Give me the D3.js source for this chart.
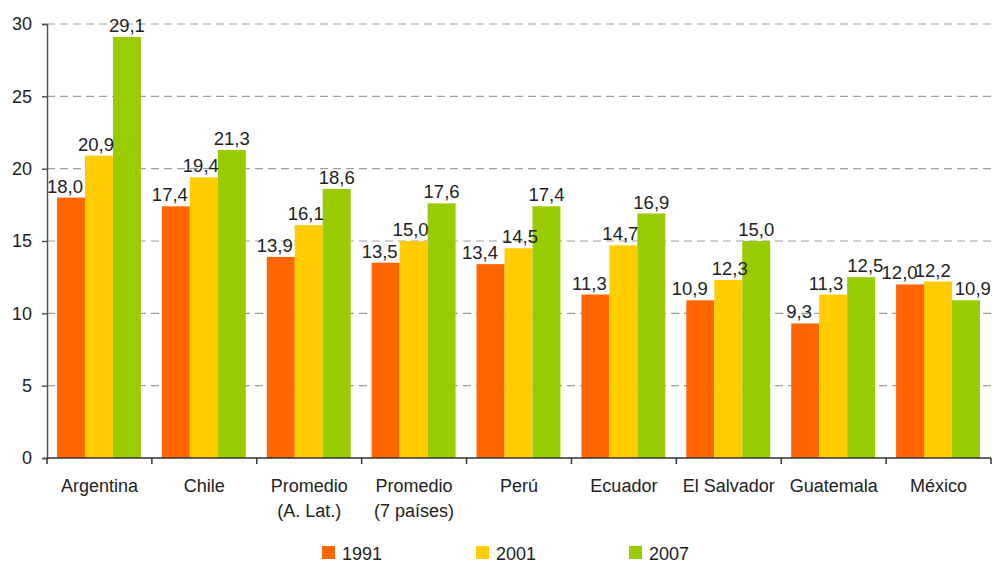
<!DOCTYPE html>
<html>
  <meta charset="utf-8">
  <head>
  <style>
    body { margin: 0; background: #fff; }
    svg text { font-family: "Liberation Sans", Arial, sans-serif; fill: #222; }
  </style>
  </head>
  <body>
    <div id="chart"></div>
    <script src="https://d3js.org/d3.v7.min.js"></script>
    <script>
    'use strict';

    var categories = [
      ['Argentina'], ['Chile'], ['Promedio', '(A. Lat.)'], ['Promedio', '(7 países)'],
      ['Perú'], ['Ecuador'], ['El Salvador'], ['Guatemala'], ['México']
    ];
    var series = ['1991', '2001', '2007'];
    var v1991 = [18.0, 17.4, 13.9, 13.5, 13.4, 11.3, 10.9, 9.3, 12.0];
    var v2001 = [20.9, 19.4, 16.1, 15.0, 14.5, 14.7, 12.3, 11.3, 12.2];
    var v2007 = [29.1, 21.3, 18.6, 17.6, 17.4, 16.9, 15.0, 12.5, 10.9];
    var colors = ['#ff6600', '#ffcc00', '#99cc00'];
    var yTicks = [0, 5, 10, 15, 20, 25, 30];

    var W = 992, H = 563;
    var plotLeft = 47, plotRight = 991, plotTop = 24, plotBottom = 458;
    var values = [v1991, v2001, v2007];
    var labelShift = [-6, -3, 0];

    var svg = d3.select('#chart').append('svg').attr('width', W).attr('height', H);

    var x0 = d3.scaleBand().domain(d3.range(categories.length)).range([plotLeft, plotRight]).paddingInner(0).paddingOuter(0);
    var x1 = d3.scaleBand().domain(series).range([10, x0.bandwidth() - 11]);
    var y = d3.scaleLinear().domain([0, 30]).range([plotBottom, plotTop]);

    // gridlines
    svg.append('g').selectAll('line').data(yTicks.filter(function (t) { return t > 0; }))
      .enter().append('line')
      .attr('x1', plotLeft).attr('x2', plotRight)
      .attr('y1', function (d) { return y(d); }).attr('y2', function (d) { return y(d); })
      .attr('stroke', '#a0a0a0').attr('stroke-width', 1.2).attr('stroke-dasharray', '8,5');

    // bars
    var groups = svg.append('g').selectAll('g').data(categories).enter().append('g')
      .attr('transform', function (d, i) { return 'translate(' + x0(i) + ',0)'; });

    groups.each(function (c, i) {
      var g = d3.select(this);
      series.forEach(function (s, k) {
        var v = values[k][i];
        g.append('rect')
          .attr('x', x1(s)).attr('width', x1.bandwidth())
          .attr('y', y(v)).attr('height', plotBottom - y(v))
          .attr('fill', colors[k]);
      });
    });
    // value labels drawn after all bars so neighbours never cover them
    groups.each(function (c, i) {
      var g = d3.select(this);
      var texts = series.map(function (s, k) {
        var v = values[k][i];
        return g.append('text')
          .attr('x', x1(s) + x1.bandwidth() / 2 + labelShift[k])
          .attr('y', y(v) - 5)
          .attr('text-anchor', 'middle')
          .attr('font-size', 18.5)
          .text(d3.format('.1f')(v).replace('.', ','));
      });
      // push apart neighbours that would collide at similar heights
      for (var k = 0; k < texts.length - 1; k++) {
        var a = texts[k].node().getBBox(), b = texts[k + 1].node().getBBox();
        var overlapY = a.y < b.y + b.height && b.y < a.y + a.height;
        var gap = b.x - (a.x + a.width);
        if (overlapY && gap < 4) {
          var d = (4 - gap) / 2;
          texts[k].attr('x', +texts[k].attr('x') - d);
          texts[k + 1].attr('x', +texts[k + 1].attr('x') + d);
        }
      }
    });

    // y axis
    var yAxis = d3.axisLeft(y).tickValues(yTicks).tickSize(5).tickPadding(10);
    var ya = svg.append('g').attr('transform', 'translate(' + plotLeft + ',0)').call(yAxis);
    ya.select('.domain').attr('stroke', '#555').attr('stroke-width', 1.5);
    ya.selectAll('.tick line').attr('stroke', '#555').attr('stroke-width', 1.5);
    ya.selectAll('.tick text').attr('font-size', 18).attr('fill', '#222')
      .style('font-family', '"Liberation Sans", Arial, sans-serif');

    // x axis
    var xa = svg.append('g');
    xa.append('line').attr('x1', plotLeft).attr('x2', plotRight).attr('y1', plotBottom).attr('y2', plotBottom)
      .attr('stroke', '#333').attr('stroke-width', 1.5);
    xa.selectAll('line.tk').data(d3.range(categories.length + 1)).enter().append('line')
      .attr('class', 'tk')
      .attr('x1', function (i) { return plotLeft + i * x0.bandwidth(); })
      .attr('x2', function (i) { return plotLeft + i * x0.bandwidth(); })
      .attr('y1', plotBottom).attr('y2', plotBottom + 6)
      .attr('stroke', '#333').attr('stroke-width', 1.5);
    var lab = xa.selectAll('text').data(categories).enter().append('text')
      .attr('x', function (d, i) { return x0(i) + x0.bandwidth() / 2; })
      .attr('y', 492)
      .attr('text-anchor', 'middle')
      .attr('font-size', 18);
    lab.each(function (lines) {
      var t = d3.select(this);
      lines.forEach(function (l, j) {
        t.append('tspan').attr('x', t.attr('x')).attr('dy', j === 0 ? 0 : 25).text(l);
      });
    });

    // legend
    var legX = [322, 476, 629];
    var leg = svg.append('g').selectAll('g').data(series).enter().append('g')
      .attr('transform', function (d, i) { return 'translate(' + legX[i] + ',546)'; });
    leg.append('rect').attr('width', 13).attr('height', 13)
      .attr('fill', function (d, i) { return colors[i]; });
    leg.append('text').attr('x', 20).attr('y', 14).attr('font-size', 18).text(function (d) { return d; });

    </script>
  </body>
</html>
